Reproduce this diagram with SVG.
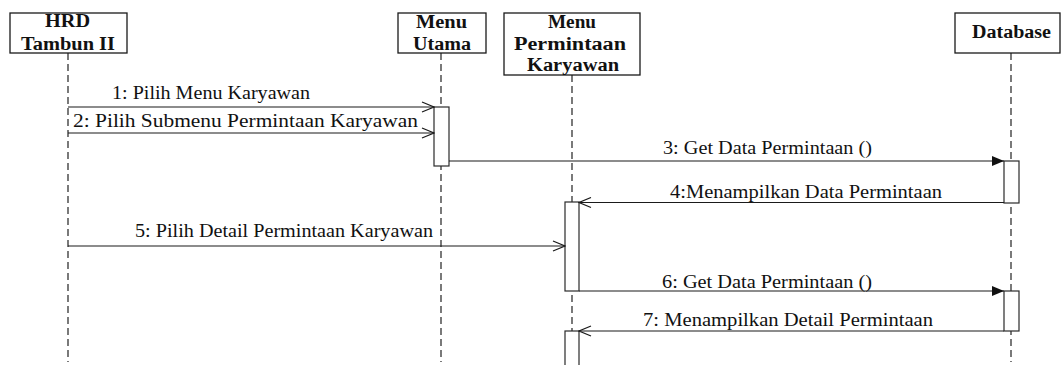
<svg xmlns="http://www.w3.org/2000/svg" width="1061" height="365" viewBox="0 0 1061 365">
  <style>
    .box { fill: #ffffff; stroke: #1a1a1a; stroke-width: 1.3; }
    .act { fill: #ffffff; stroke: #2a2a2a; stroke-width: 1.2; }
    .life { stroke: #333333; stroke-width: 1.3; stroke-dasharray: 7 4; fill: none; }
    .msg { stroke: #1a1a1a; stroke-width: 1.2; fill: none; }
    text { font-family: 'Liberation Serif', 'Times New Roman', Times, 'DejaVu Serif', serif; font-size: 18px; fill: #111111; }
    .hd { font-weight: bold; }
  </style>
  <defs>
    <marker id="open" viewBox="0 0 14 12" refX="13" refY="6" markerWidth="14" markerHeight="12" markerUnits="userSpaceOnUse" orient="auto">
      <path d="M1,1 L13,6 L1,11" fill="none" stroke="#1a1a1a" stroke-width="1.2"/>
    </marker>
    <marker id="filled" viewBox="0 0 13 11" refX="12.5" refY="5.5" markerWidth="13" markerHeight="11" markerUnits="userSpaceOnUse" orient="auto">
      <path d="M0.5,0.5 L12.5,5.5 L0.5,10.5 Z" fill="#111111" stroke="none"/>
    </marker>
  </defs>

  <!-- lifelines -->
  <g id="lifelines">
    <line class="life" x1="68" y1="53" x2="68" y2="362"/>
    <line class="life" x1="441" y1="53" x2="441" y2="362"/>
    <line class="life" x1="572" y1="75" x2="572" y2="362"/>
    <line class="life" x1="1011" y1="53" x2="1011" y2="362"/>
  </g>

  <!-- participants -->
  <g id="hrd">
    <rect class="box" x="10" y="13" width="117" height="40"/>
    <text class="hd" x="45" y="27" textLength="45" lengthAdjust="spacingAndGlyphs">HRD</text>
    <text class="hd" x="21" y="50" textLength="94" lengthAdjust="spacingAndGlyphs">Tambun II</text>
  </g>
  <g id="menu-utama">
    <rect class="box" x="398" y="13" width="88" height="40"/>
    <text class="hd" x="416" y="28" textLength="51" lengthAdjust="spacingAndGlyphs">Menu</text>
    <text class="hd" x="413" y="50" textLength="58" lengthAdjust="spacingAndGlyphs">Utama</text>
    <rect class="act" x="434" y="107" width="15" height="59"/>
  </g>
  <g id="menu-permintaan">
    <rect class="box" x="504" y="13" width="136" height="62"/>
    <text class="hd" x="548" y="28" textLength="48" lengthAdjust="spacingAndGlyphs">Menu</text>
    <text class="hd" x="514" y="50" textLength="112" lengthAdjust="spacingAndGlyphs">Permintaan</text>
    <text class="hd" x="527" y="71" textLength="92" lengthAdjust="spacingAndGlyphs">Karyawan</text>
    <rect class="act" x="565" y="202" width="14" height="89"/>
    <rect class="act" x="565" y="331" width="14" height="40"/>
  </g>
  <g id="database">
    <rect class="box" x="955" y="13" width="105" height="40"/>
    <text class="hd" x="972" y="38" textLength="79" lengthAdjust="spacingAndGlyphs">Database</text>
    <rect class="act" x="1004" y="161" width="15" height="42"/>
    <rect class="act" x="1004" y="291" width="15" height="40"/>
  </g>

  <!-- messages -->
  <g id="connectors">
    <line class="msg" x1="68" y1="107" x2="434" y2="107" marker-end="url(#open)"/>
    <line class="msg" x1="68" y1="133" x2="434" y2="133" marker-end="url(#open)"/>
    <line class="msg" x1="449" y1="161" x2="1004" y2="161" marker-end="url(#filled)"/>
    <line class="msg" x1="1004" y1="202.5" x2="579" y2="202.5" marker-end="url(#open)"/>
    <line class="msg" x1="68" y1="246" x2="565" y2="246" marker-end="url(#open)"/>
    <line class="msg" x1="579" y1="291" x2="1004" y2="291" marker-end="url(#filled)"/>
    <line class="msg" x1="1004" y1="331" x2="579" y2="331" marker-end="url(#open)"/>

    <text x="112" y="99" textLength="198" lengthAdjust="spacingAndGlyphs">1: Pilih Menu Karyawan</text>
    <text x="73" y="127" textLength="345" lengthAdjust="spacingAndGlyphs">2: Pilih Submenu Permintaan Karyawan</text>
    <text x="663" y="154" textLength="209" lengthAdjust="spacingAndGlyphs">3: Get Data Permintaan ()</text>
    <text x="670" y="198" textLength="272" lengthAdjust="spacingAndGlyphs">4:Menampilkan Data Permintaan</text>
    <text x="135" y="237" textLength="298" lengthAdjust="spacingAndGlyphs">5: Pilih Detail Permintaan Karyawan</text>
    <text x="662" y="288" textLength="210" lengthAdjust="spacingAndGlyphs">6: Get Data Permintaan ()</text>
    <text x="643" y="326" textLength="290" lengthAdjust="spacingAndGlyphs">7: Menampilkan Detail Permintaan</text>
  </g>
</svg>
